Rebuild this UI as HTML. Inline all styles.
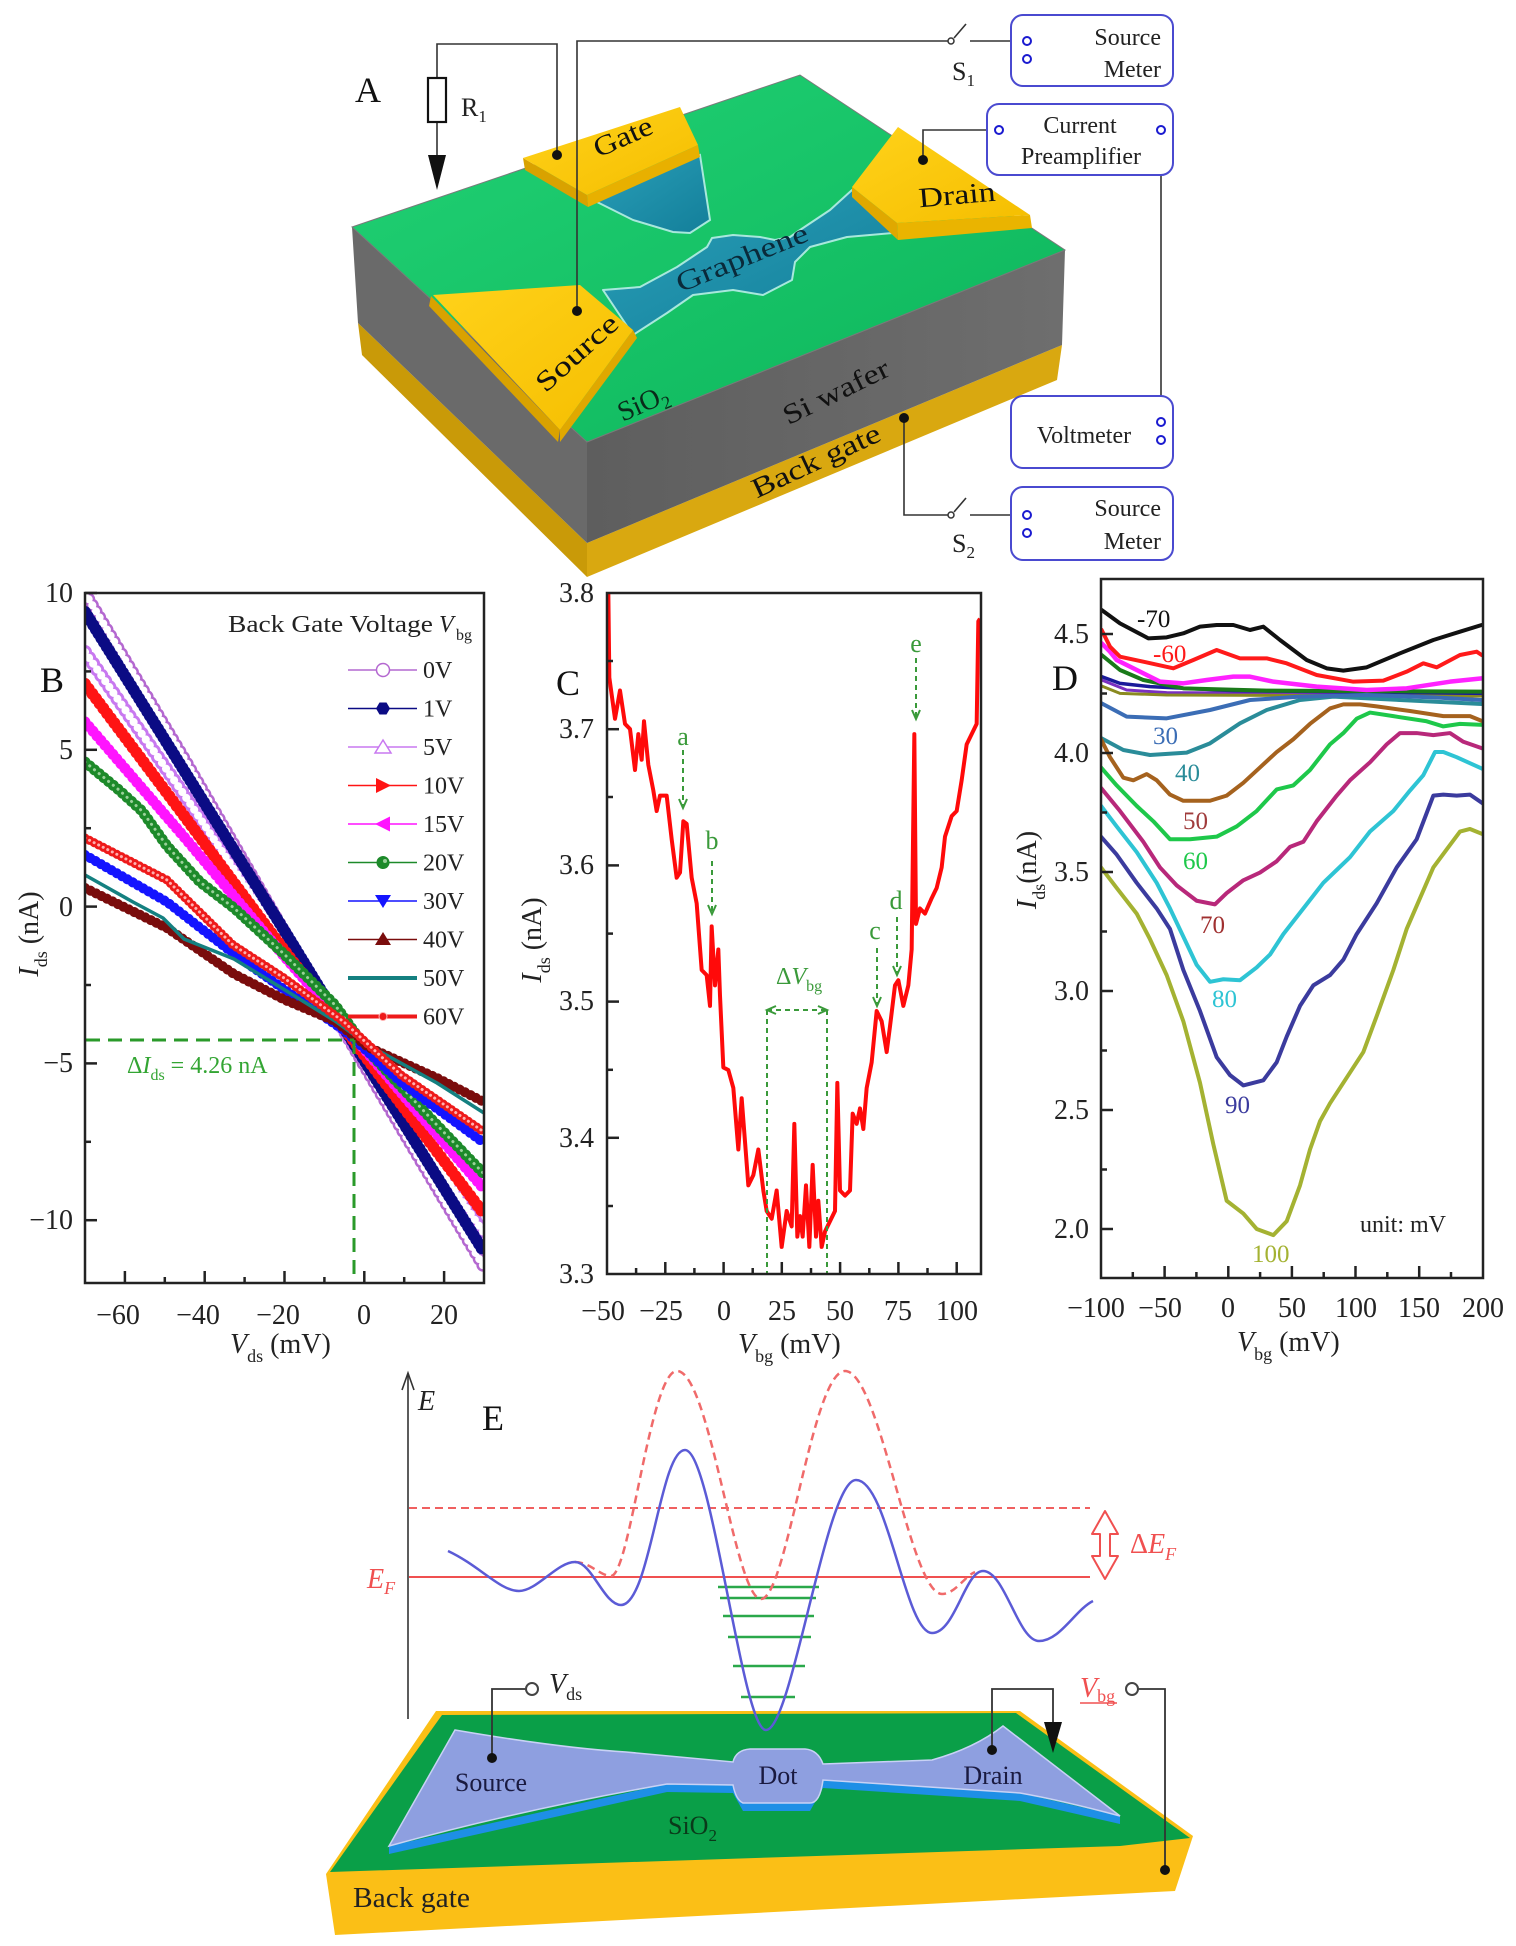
<!DOCTYPE html>
<html><head><meta charset="utf-8">
<style>
html,body{margin:0;padding:0;background:#fff;}
svg{display:block;}
text{font-family:"Liberation Serif",serif;}
</style></head><body>
<svg xmlns="http://www.w3.org/2000/svg" width="1516" height="1946" viewBox="0 0 1516 1946">
<defs>
 <clipPath id="cB"><rect x="85" y="593" width="399" height="690"/></clipPath>
 <clipPath id="cC"><rect x="607" y="593" width="374" height="681"/></clipPath>
 <clipPath id="cD"><rect x="1101" y="579" width="382" height="699"/></clipPath>
 <linearGradient id="gTop" x1="0" y1="0" x2="1" y2="1"><stop offset="0" stop-color="#22d275"/><stop offset="1" stop-color="#0cb45a"/></linearGradient>
 <linearGradient id="gGrayR" x1="0" y1="0" x2="1" y2="0"><stop offset="0" stop-color="#5e5e5e"/><stop offset="1" stop-color="#6e6e6e"/></linearGradient>
 <linearGradient id="gGold" x1="0" y1="0" x2="1" y2="1"><stop offset="0" stop-color="#ffd21a"/><stop offset="1" stop-color="#f5be00"/></linearGradient>
 <linearGradient id="gTeal" x1="0" y1="0" x2="1" y2="1"><stop offset="0" stop-color="#2a9fb8"/><stop offset="1" stop-color="#137f9a"/></linearGradient>
</defs>
<rect width="1516" height="1946" fill="#fff"/>

<!-- ================= PANEL A ================= -->
<g>
 <!-- base layers -->
 <polygon points="358,323 587,543 587,577 362,355" fill="#c99a08"/>
 <polygon points="587,543 1062,345 1057,380 587,577" fill="#d9a810"/>
 <polygon points="352,227 587,442 587,543 358,323" fill="#6a6a6a"/>
 <polygon points="587,442 1065,250 1062,345 587,543" fill="url(#gGrayR)"/>
 <polygon points="352,227 800,75 1065,250 587,442" fill="url(#gTop)" stroke="#7a7a7a" stroke-width="1"/>
 <!-- gate graphene -->
 <polygon points="593,200 700,155 710,220 690,233 673,232 633,220" fill="url(#gTeal)" stroke="#a8e8dc" stroke-width="2"/>
 <!-- channel -->
 <polygon points="603,290 640,287 677,267 707,247 712,238 733,235 760,237 775,240 790,237 800,230 830,210 852,190 893,233 847,237 810,247 795,262 792,280 763,295 733,290 693,295 667,313 633,335" fill="url(#gTeal)" stroke="#a8e8dc" stroke-width="2" stroke-linejoin="round"/>
 <!-- gate electrode -->
 <polygon points="523,158 587,195 588,207 525,170" fill="#d9a200"/>
 <polygon points="587,195 698,145 700,157 588,207" fill="#e8b000"/>
 <polygon points="523,158 680,107 698,145 587,195" fill="url(#gGold)"/>
 <!-- drain electrode -->
 <polygon points="852,187 897,223 898,240 852,197" fill="#e0a800"/>
 <polygon points="897,223 1030,215 1032,228 898,240" fill="#eab400"/>
 <polygon points="898,127 1030,215 897,223 852,187" fill="url(#gGold)"/>
 <!-- source electrode -->
 <polygon points="431,296 560,430 558,442 429,306" fill="#d9a200"/>
 <polygon points="633,330 560,430 560,442 637,338" fill="#e0a800"/>
 <polygon points="433,295 580,285 633,330 560,430" fill="url(#gGold)"/>
 <!-- labels on device -->
 <text x="623" y="137" font-size="28" text-anchor="middle" dy="9" transform="rotate(-24 623 137)" textLength="62" lengthAdjust="spacingAndGlyphs" fill="#111">Gate</text>
 <text x="957" y="195" font-size="28" text-anchor="middle" dy="9" transform="rotate(-5 957 195)" textLength="77" lengthAdjust="spacingAndGlyphs" fill="#111">Drain</text>
 <text x="742" y="258" font-size="28" text-anchor="middle" dy="9" transform="rotate(-22 742 258)" textLength="140" lengthAdjust="spacingAndGlyphs" fill="#0a2a3a">Graphene</text>
 <text x="577" y="353" font-size="28" text-anchor="middle" dy="9" transform="rotate(-42 577 353)" textLength="101" lengthAdjust="spacingAndGlyphs" fill="#111">Source</text>
 <text x="643" y="403" font-size="28" text-anchor="middle" dy="9" transform="rotate(-24 643 403)" fill="#0a2a1a">SiO<tspan font-size="18" dy="6">2</tspan></text>
 <text x="836" y="392" font-size="28" text-anchor="middle" dy="9" transform="rotate(-26 836 392)" textLength="115" lengthAdjust="spacingAndGlyphs" fill="#111">Si wafer</text>
 <text x="816" y="461" font-size="28" text-anchor="middle" dy="9" transform="rotate(-25 816 461)" textLength="139" lengthAdjust="spacingAndGlyphs" fill="#111">Back gate</text>
 <!-- wires -->
 <g stroke="#333" stroke-width="1.6" fill="none">
  <polyline points="437,155 437,44 557,44 557,155"/>
  <polyline points="577,311 577,41 948,41"/>
  <line x1="970" y1="41" x2="1023" y2="41"/>
  <line x1="954" y1="38" x2="966" y2="24"/>
  <polyline points="923,160 923,130 994,130"/>
  <line x1="1161" y1="134" x2="1161" y2="418"/>
  <polyline points="904,418 904,515 948,515"/>
  <line x1="970" y1="515" x2="1023" y2="515"/>
  <line x1="954" y1="512" x2="966" y2="498"/>
 </g>
 <circle cx="951" cy="41" r="3" fill="#fff" stroke="#333" stroke-width="1.5"/>
 <circle cx="951" cy="515" r="3" fill="#fff" stroke="#333" stroke-width="1.5"/>
 <rect x="428" y="78" width="18" height="44" fill="#fff" stroke="#111" stroke-width="2.2"/>
 <polygon points="428,155 446,155 437,190" fill="#111"/>
 <circle cx="557" cy="155" r="5" fill="#111"/>
 <circle cx="577" cy="311" r="5" fill="#111"/>
 <circle cx="923" cy="160" r="5" fill="#111"/>
 <circle cx="904" cy="418" r="5" fill="#111"/>
 <text x="355" y="102" font-size="36" fill="#111">A</text>
 <text x="461" y="116" font-size="26" fill="#222">R<tspan font-size="17" dy="6">1</tspan></text>
 <text x="952" y="80" font-size="26" fill="#222">S<tspan font-size="17" dy="6">1</tspan></text>
 <text x="952" y="552" font-size="26" fill="#222">S<tspan font-size="17" dy="6">2</tspan></text>
 <!-- boxes -->
 <g fill="#fff" stroke="#4a4ad0" stroke-width="2">
  <rect x="1011" y="15" width="162" height="71" rx="12"/>
  <rect x="987" y="104" width="186" height="71" rx="12"/>
  <rect x="1011" y="396" width="162" height="72" rx="12"/>
  <rect x="1011" y="487" width="162" height="73" rx="12"/>
 </g>
 <g fill="#fff" stroke="#1a1ad0" stroke-width="2">
  <circle cx="1027" cy="41" r="4"/><circle cx="1027" cy="59" r="4"/>
  <circle cx="999" cy="130" r="4"/><circle cx="1161" cy="130" r="4"/>
  <circle cx="1161" cy="422" r="4"/><circle cx="1161" cy="440" r="4"/>
  <circle cx="1027" cy="515" r="4"/><circle cx="1027" cy="533" r="4"/>
 </g>
 <g font-size="24" fill="#222">
  <text x="1161" y="45" text-anchor="end">Source</text>
  <text x="1161" y="77" text-anchor="end">Meter</text>
  <text x="1080" y="133" text-anchor="middle">Current</text>
  <text x="1081" y="164" text-anchor="middle">Preamplifier</text>
  <text x="1084" y="443" text-anchor="middle">Voltmeter</text>
  <text x="1161" y="516" text-anchor="end">Source</text>
  <text x="1161" y="549" text-anchor="end">Meter</text>
 </g>
</g>

<!-- ================= PANEL B ================= -->
<g clip-path="url(#cB)" fill="none" stroke-linecap="round" stroke-linejoin="round">
 <!-- 0V open circles -->
 <polyline points="85,593 185,760 284,931 344,1031 404,1133 484,1267" stroke="#b468d0" stroke-width="13" stroke-dasharray="0.1 7"/>
 <polyline points="85,593 185,760 284,931 344,1031 404,1133 484,1267" stroke="#fff" stroke-width="8" stroke-dasharray="0.1 7"/>
 <!-- 5V open triangles -->
 <polyline points="85,652 185,796 284,944 344,1030 404,1117 484,1233" stroke="#c878f0" stroke-width="14" stroke-dasharray="0.1 7"/>
 <polyline points="85,652 185,796 284,944 344,1030 404,1117 484,1233" stroke="#fff" stroke-width="8" stroke-dasharray="0.1 7"/>
 <!-- 1V navy -->
 <polyline points="85,612 185,772 284,930 344,1028 404,1124 484,1252" stroke="#0b0b84" stroke-width="12" stroke-dasharray="0.1 5"/>
 <!-- 10V red -->
 <polyline points="85,684 185,817 284,950 344,1028 404,1108 484,1214" stroke="#ff1414" stroke-width="12" stroke-dasharray="0.1 6"/>
 <!-- 15V magenta -->
 <polyline points="85,722 185,838 284,956 344,1025 404,1096 484,1189" stroke="#ff14ff" stroke-width="11" stroke-dasharray="0.1 6"/>
 <!-- 20V green circles -->
 <polyline points="85,762 119,790 142,811 167,846 200,882 234,908 284,954 335,1005 368,1051 435,1123 484,1174" stroke="#1d8a2a" stroke-width="11" stroke-dasharray="0.1 6"/>
 <polyline points="85,762 119,790 142,811 167,846 200,882 234,908 284,954 335,1005 368,1051 435,1123 484,1174" stroke="#9ad09a" stroke-width="3" stroke-dasharray="0.1 6"/>
 <!-- 30V blue -->
 <polyline points="85,855 167,902 234,954 285,990 345,1031 402,1083 484,1143" stroke="#1414ff" stroke-width="10" stroke-dasharray="0.1 6"/>
 <!-- 40V dark red -->
 <polyline points="85,888 167,928 234,974 285,1000 335,1021 368,1047 437,1078 484,1102" stroke="#7a0c0c" stroke-width="10" stroke-dasharray="0.1 6"/>
 <!-- 50V teal line -->
 <polyline points="85,875 133,902 163,918 184,939 234,959 285,990 335,1021 368,1045 437,1083 484,1113" stroke="#148080" stroke-width="3.5"/>
 <!-- 60V red circles -->
 <polyline points="85,838 167,880 233,945 284,978 344,1022 401,1075 484,1132" stroke="#ee1a1a" stroke-width="9" stroke-dasharray="0.1 5"/>
 <polyline points="85,838 167,880 233,945 284,978 344,1022 401,1075 484,1132" stroke="#ffb0b0" stroke-width="3" stroke-dasharray="0.1 5"/>
</g>
<!-- dashed green -->
<g stroke="#2a9a2a" stroke-width="3" stroke-dasharray="14 8" fill="none">
 <line x1="86" y1="1040" x2="354" y2="1040"/>
 <line x1="354" y1="1040" x2="354" y2="1282"/>
</g>
<text x="127" y="1073" font-size="24" fill="#33a533">Δ<tspan font-style="italic">I</tspan><tspan font-size="16" dy="7">ds</tspan><tspan dy="-7"> = 4.26 nA</tspan></text>
<!-- frame & ticks B -->
<rect x="85" y="593" width="399" height="690" fill="none" stroke="#222" stroke-width="2.5"/>
<g stroke="#222" stroke-width="2.5">
 <line x1="124.9" y1="1283" x2="124.9" y2="1271"/><line x1="204.7" y1="1283" x2="204.7" y2="1271"/>
 <line x1="284.5" y1="1283" x2="284.5" y2="1271"/><line x1="364.3" y1="1283" x2="364.3" y2="1271"/>
 <line x1="444.1" y1="1283" x2="444.1" y2="1271"/>
 <line x1="164.8" y1="1283" x2="164.8" y2="1277"/><line x1="244.6" y1="1283" x2="244.6" y2="1277"/>
 <line x1="324.4" y1="1283" x2="324.4" y2="1277"/><line x1="404.2" y1="1283" x2="404.2" y2="1277"/>
 <line x1="85" y1="593" x2="97" y2="593"/><line x1="85" y1="749.8" x2="97" y2="749.8"/>
 <line x1="85" y1="906.6" x2="97" y2="906.6"/><line x1="85" y1="1063.4" x2="97" y2="1063.4"/>
 <line x1="85" y1="1220.2" x2="97" y2="1220.2"/>
 <line x1="85" y1="671.4" x2="91" y2="671.4"/><line x1="85" y1="828.2" x2="91" y2="828.2"/>
 <line x1="85" y1="985" x2="91" y2="985"/><line x1="85" y1="1141.8" x2="91" y2="1141.8"/>
</g>
<g font-size="28" fill="#222">
 <text x="73" y="602" text-anchor="end">10</text>
 <text x="73" y="759" text-anchor="end">5</text>
 <text x="73" y="916" text-anchor="end">0</text>
 <text x="73" y="1072" text-anchor="end">−5</text>
 <text x="73" y="1229" text-anchor="end">−10</text>
 <text x="118" y="1324" text-anchor="middle">−60</text>
 <text x="198" y="1324" text-anchor="middle">−40</text>
 <text x="278" y="1324" text-anchor="middle">−20</text>
 <text x="364" y="1324" text-anchor="middle">0</text>
 <text x="444" y="1324" text-anchor="middle">20</text>
</g>
<text x="230" y="1353" font-size="28" fill="#222"><tspan font-style="italic">V</tspan><tspan font-size="18" dy="9">ds</tspan><tspan dy="-9"> (mV)</tspan></text>
<text x="38" y="934" font-size="28" fill="#222" text-anchor="middle" transform="rotate(-90 38 934)"><tspan font-style="italic">I</tspan><tspan font-size="18" dy="9">ds</tspan><tspan dy="-9"> (nA)</tspan></text>
<text x="40" y="692" font-size="36" fill="#111">B</text>
<!-- legend B -->
<text x="228" y="632" font-size="24" fill="#222" textLength="205" lengthAdjust="spacingAndGlyphs">Back Gate Voltage</text>
<text x="439" y="632" font-size="24" fill="#222" font-style="italic">V</text>
<text x="456" y="640" font-size="16" fill="#222">bg</text>
<g stroke-width="1.5">
 <line x1="348" y1="670" x2="417" y2="670" stroke="#b468d0"/>
 <circle cx="383" cy="670" r="6.5" fill="#fff" stroke="#b468d0" stroke-width="1.5"/>
 <line x1="348" y1="708.5" x2="417" y2="708.5" stroke="#0b0b84"/>
 <polygon points="376,708.5 379.5,702.5 386.5,702.5 390,708.5 386.5,714.5 379.5,714.5" fill="#0b0b84"/>
 <line x1="348" y1="747" x2="417" y2="747" stroke="#c878f0"/>
 <polygon points="383,740 391,753 375,753" fill="#fff" stroke="#c878f0" stroke-width="1.5"/>
 <line x1="348" y1="785.5" x2="417" y2="785.5" stroke="#ff1414"/>
 <polygon points="376,778 391,785.5 376,793" fill="#ff1414"/>
 <line x1="348" y1="824" x2="417" y2="824" stroke="#ff14ff"/>
 <polygon points="390,816.5 375,824 390,831.5" fill="#ff14ff"/>
 <line x1="348" y1="862.5" x2="417" y2="862.5" stroke="#1d8a2a"/>
 <circle cx="383" cy="862.5" r="6.5" fill="#1d8a2a"/><circle cx="385" cy="861" r="2" fill="#9ad09a"/>
 <line x1="348" y1="901" x2="417" y2="901" stroke="#1414ff"/>
 <polygon points="375,895 391,895 383,908" fill="#1414ff"/>
 <line x1="348" y1="939.5" x2="417" y2="939.5" stroke="#7a0c0c"/>
 <polygon points="383,932 391,945 375,945" fill="#7a0c0c"/>
 <line x1="348" y1="978" x2="417" y2="978" stroke="#148080" stroke-width="4"/>
 <line x1="348" y1="1016.5" x2="417" y2="1016.5" stroke="#ee1a1a" stroke-width="4"/>
 <circle cx="383" cy="1016.5" r="4" fill="#ee1a1a" stroke="#ffb0b0" stroke-width="1"/>
</g>
<g font-size="24" fill="#222">
 <text x="423" y="678">0V</text><text x="423" y="716.5">1V</text><text x="423" y="755">5V</text>
 <text x="423" y="793.5">10V</text><text x="423" y="832">15V</text><text x="423" y="870.5">20V</text>
 <text x="423" y="909">30V</text><text x="423" y="947.5">40V</text><text x="423" y="986">50V</text>
 <text x="423" y="1024.5">60V</text>
</g>

<!-- ================= PANEL C ================= -->
<g clip-path="url(#cC)">
<polyline transform="translate(520,570) scale(0.333333,0.512821)" vector-effect="non-scaling-stroke" fill="none" stroke="#ff0a0a" stroke-width="4" stroke-linejoin="round"
 points="265,45 268,210 285,290 300,235 315,300 330,310 345,390 355,320 365,370 372,295 385,380 400,430 410,470 420,440 440,440 455,525 470,600 480,590 490,490 500,495 515,600 530,650 545,780 560,790 570,850 575,695 585,810 595,740 600,830 610,970 625,975 640,1010 655,1130 665,1030 678,1140 685,1200 700,1180 715,1130 730,1210 740,1250 755,1265 770,1210 785,1320 800,1250 815,1280 823,1080 832,1300 840,1260 848,1300 858,1200 868,1320 878,1160 888,1300 895,1230 905,1320 915,1290 930,1270 945,1250 952,1000 960,1210 975,1220 990,1210 998,1060 1010,1080 1020,1050 1030,1090 1040,1010 1055,960 1070,860 1085,880 1100,940 1110,890 1125,810 1135,800 1150,850 1165,810 1175,740 1183,320 1188,690 1200,660 1215,670 1235,640 1250,620 1265,580 1275,520 1295,480 1310,470 1325,410 1340,340 1355,320 1370,300 1375,100 1380,95"/>
</g>
<!-- annotations C -->
<g stroke="#3a9a3a" stroke-width="2" fill="none">
 <line x1="683" y1="750" x2="683" y2="806" stroke-dasharray="5 4"/><polyline points="679,799 683,808 687,799"/>
 <line x1="712" y1="861" x2="712" y2="912" stroke-dasharray="5 4"/><polyline points="708,905 712,914 716,905"/>
 <line x1="877" y1="948" x2="877" y2="1004" stroke-dasharray="5 4"/><polyline points="873,997 877,1006 881,997"/>
 <line x1="897" y1="917" x2="897" y2="973" stroke-dasharray="5 4"/><polyline points="893,966 897,975 901,966"/>
 <line x1="916" y1="658" x2="916" y2="717" stroke-dasharray="5 4"/><polyline points="912,710 916,719 920,710"/>
 <line x1="767" y1="1010" x2="827" y2="1010" stroke-dasharray="5 4"/>
 <polyline points="776,1006 767,1010 776,1014"/><polyline points="818,1006 827,1010 818,1014"/>
 <line x1="767" y1="1010" x2="767" y2="1274" stroke-dasharray="5 4"/>
 <line x1="827" y1="1010" x2="827" y2="1274" stroke-dasharray="5 4"/>
</g>
<g font-size="26" fill="#3a9a3a" text-anchor="middle">
 <text x="683" y="745">a</text><text x="712" y="849">b</text><text x="875" y="939">c</text>
 <text x="896" y="909">d</text><text x="916" y="652">e</text>
</g>
<text x="776" y="984" font-size="24" fill="#3a9a3a">Δ<tspan font-style="italic">V</tspan><tspan font-size="16" dy="7">bg</tspan></text>
<rect x="607" y="593" width="374" height="681" fill="none" stroke="#222" stroke-width="2.5"/>
<g stroke="#222" stroke-width="2.5">
 <line x1="665.3" y1="1274" x2="665.3" y2="1262"/><line x1="723.6" y1="1274" x2="723.6" y2="1262"/>
 <line x1="781.8" y1="1274" x2="781.8" y2="1262"/><line x1="840.1" y1="1274" x2="840.1" y2="1262"/>
 <line x1="898.4" y1="1274" x2="898.4" y2="1262"/><line x1="956.7" y1="1274" x2="956.7" y2="1262"/>
 <line x1="636.1" y1="1274" x2="636.1" y2="1268"/><line x1="694.4" y1="1274" x2="694.4" y2="1268"/>
 <line x1="752.7" y1="1274" x2="752.7" y2="1268"/><line x1="811" y1="1274" x2="811" y2="1268"/>
 <line x1="869.3" y1="1274" x2="869.3" y2="1268"/><line x1="927.5" y1="1274" x2="927.5" y2="1268"/>
 <line x1="607" y1="729.2" x2="619" y2="729.2"/><line x1="607" y1="865.4" x2="619" y2="865.4"/>
 <line x1="607" y1="1001.6" x2="619" y2="1001.6"/><line x1="607" y1="1137.8" x2="619" y2="1137.8"/>
 <line x1="607" y1="661" x2="613" y2="661"/><line x1="607" y1="797" x2="613" y2="797"/>
 <line x1="607" y1="933.6" x2="613" y2="933.6"/><line x1="607" y1="1069.8" x2="613" y2="1069.8"/>
 <line x1="607" y1="1206" x2="613" y2="1206"/>
</g>
<g font-size="28" fill="#222">
 <text x="594" y="602" text-anchor="end">3.8</text>
 <text x="594" y="738" text-anchor="end">3.7</text>
 <text x="594" y="874" text-anchor="end">3.6</text>
 <text x="594" y="1010" text-anchor="end">3.5</text>
 <text x="594" y="1147" text-anchor="end">3.4</text>
 <text x="594" y="1283" text-anchor="end">3.3</text>
 <text x="603" y="1320" text-anchor="middle">−50</text>
 <text x="661" y="1320" text-anchor="middle">−25</text>
 <text x="724" y="1320" text-anchor="middle">0</text>
 <text x="782" y="1320" text-anchor="middle">25</text>
 <text x="840" y="1320" text-anchor="middle">50</text>
 <text x="898" y="1320" text-anchor="middle">75</text>
 <text x="957" y="1320" text-anchor="middle">100</text>
</g>
<text x="738" y="1353" font-size="28" fill="#222"><tspan font-style="italic">V</tspan><tspan font-size="18" dy="9">bg</tspan><tspan dy="-9"> (mV)</tspan></text>
<text x="541" y="940" font-size="28" fill="#222" text-anchor="middle" transform="rotate(-90 541 940)"><tspan font-style="italic">I</tspan><tspan font-size="18" dy="9">ds</tspan><tspan dy="-9"> (nA)</tspan></text>
<text x="556" y="695" font-size="36" fill="#111">C</text>

<!-- ================= PANEL D ================= -->
<g clip-path="url(#cD)" fill="none" stroke-linejoin="round" stroke-linecap="round">
 <g transform="translate(1100,580) scale(0.333333)">
  <polyline vector-effect="non-scaling-stroke" stroke="#7a30c0" stroke-width="3" points="5,300 80,330 200,338 1145,342"/>
  <polyline vector-effect="non-scaling-stroke" stroke="#8a8a20" stroke-width="3" points="5,318 60,340 200,345 1145,348"/>
  <polyline vector-effect="non-scaling-stroke" stroke="#1a1a9a" stroke-width="3.5" points="5,290 60,310 150,320 400,332 1145,340"/>
  <polyline vector-effect="non-scaling-stroke" stroke="#1a7a1a" stroke-width="4" points="5,225 60,270 130,300 250,325 500,332 1145,335"/>
  <polyline vector-effect="non-scaling-stroke" stroke="#ff22ff" stroke-width="4.5" points="5,190 30,215 50,240 90,260 120,275 180,305 250,310 320,300 400,290 450,290 520,305 650,320 800,330 920,325 1050,305 1145,295"/>
  <polyline vector-effect="non-scaling-stroke" stroke="#ff1a1a" stroke-width="4" points="5,150 30,200 60,230 130,245 220,265 280,240 350,210 420,235 500,235 560,250 650,285 760,305 850,302 920,275 970,250 1010,262 1080,225 1130,215 1145,225"/>
  <polyline vector-effect="non-scaling-stroke" stroke="#111" stroke-width="4" points="5,90 60,130 145,175 200,172 250,160 300,140 350,135 400,135 450,150 490,140 540,180 620,240 680,265 730,272 800,262 900,220 1000,180 1080,155 1145,135"/>
  <polyline vector-effect="non-scaling-stroke" stroke="#2a8c99" stroke-width="4" points="5,475 70,510 150,525 260,518 330,490 420,430 500,390 600,360 700,350 900,360 1145,372"/>
  <polyline vector-effect="non-scaling-stroke" stroke="#3b6db5" stroke-width="4" points="5,370 80,410 200,415 330,390 450,360 600,350 800,345 1000,352 1145,360"/>
 </g>
 <g transform="translate(1010,570) scale(0.333333,0.512821)">
  <polyline vector-effect="non-scaling-stroke" stroke="#a5621e" stroke-width="4" points="273,330 300,365 340,405 370,410 410,398 440,410 480,438 520,450 600,450 650,440 700,415 750,385 800,355 850,330 900,300 960,270 1000,262 1050,262 1100,266 1200,275 1300,285 1380,285 1418,295"/>
  <polyline vector-effect="non-scaling-stroke" stroke="#1ec84a" stroke-width="4" points="273,385 320,420 380,460 430,490 480,525 540,525 620,520 680,500 740,470 800,428 850,420 900,390 960,340 1000,318 1040,290 1080,278 1150,285 1250,295 1300,305 1350,300 1418,302"/>
  <polyline vector-effect="non-scaling-stroke" stroke="#b8287a" stroke-width="4" points="273,425 330,470 400,530 450,580 500,615 560,645 615,652 650,630 700,605 750,590 800,568 840,540 880,530 920,490 980,440 1020,410 1080,375 1130,340 1170,318 1220,318 1270,322 1320,318 1360,335 1418,348"/>
  <polyline vector-effect="non-scaling-stroke" stroke="#2ec4d4" stroke-width="4" points="273,460 320,500 380,550 440,610 480,660 520,715 560,770 600,803 640,798 690,800 740,775 780,750 820,710 880,660 940,610 980,585 1020,560 1080,510 1150,470 1200,430 1240,400 1275,355 1300,355 1340,365 1418,388"/>
  <polyline vector-effect="non-scaling-stroke" stroke="#3b3b9e" stroke-width="4" points="273,520 320,555 380,610 440,660 480,700 520,780 570,860 620,950 660,985 700,1005 760,995 800,960 830,910 870,850 910,810 960,790 1000,760 1040,710 1100,650 1160,580 1220,525 1270,440 1300,438 1340,440 1380,438 1418,455"/>
  <polyline vector-effect="non-scaling-stroke" stroke="#a4b232" stroke-width="4" points="273,580 320,620 380,670 420,720 470,790 520,880 570,1000 610,1120 650,1230 700,1255 740,1285 790,1297 830,1270 870,1200 900,1130 930,1075 960,1040 1000,1000 1060,940 1100,870 1150,780 1190,700 1230,640 1270,580 1310,545 1350,510 1380,505 1418,515"/>
 </g>
</g>
<rect x="1101" y="579" width="382" height="699" fill="none" stroke="#222" stroke-width="2.5"/>
<g stroke="#222" stroke-width="2.5">
 <line x1="1164.6" y1="1278" x2="1164.6" y2="1266"/><line x1="1228.3" y1="1278" x2="1228.3" y2="1266"/>
 <line x1="1291.9" y1="1278" x2="1291.9" y2="1266"/><line x1="1355.5" y1="1278" x2="1355.5" y2="1266"/>
 <line x1="1419.2" y1="1278" x2="1419.2" y2="1266"/>
 <line x1="1132.8" y1="1278" x2="1132.8" y2="1272"/><line x1="1196.4" y1="1278" x2="1196.4" y2="1272"/>
 <line x1="1260.1" y1="1278" x2="1260.1" y2="1272"/><line x1="1323.7" y1="1278" x2="1323.7" y2="1272"/>
 <line x1="1387.3" y1="1278" x2="1387.3" y2="1272"/><line x1="1451" y1="1278" x2="1451" y2="1272"/>
 <line x1="1101" y1="634" x2="1113" y2="634"/><line x1="1101" y1="753" x2="1113" y2="753"/>
 <line x1="1101" y1="872" x2="1113" y2="872"/><line x1="1101" y1="991" x2="1113" y2="991"/>
 <line x1="1101" y1="1110" x2="1113" y2="1110"/><line x1="1101" y1="1229" x2="1113" y2="1229"/>
 <line x1="1101" y1="693.5" x2="1107" y2="693.5"/><line x1="1101" y1="812.5" x2="1107" y2="812.5"/>
 <line x1="1101" y1="931.5" x2="1107" y2="931.5"/><line x1="1101" y1="1050.5" x2="1107" y2="1050.5"/>
 <line x1="1101" y1="1169.5" x2="1107" y2="1169.5"/>
</g>
<g font-size="28" fill="#222">
 <text x="1089" y="643" text-anchor="end">4.5</text>
 <text x="1089" y="762" text-anchor="end">4.0</text>
 <text x="1089" y="881" text-anchor="end">3.5</text>
 <text x="1089" y="1000" text-anchor="end">3.0</text>
 <text x="1089" y="1119" text-anchor="end">2.5</text>
 <text x="1089" y="1238" text-anchor="end">2.0</text>
 <text x="1096" y="1317" text-anchor="middle">−100</text>
 <text x="1160" y="1317" text-anchor="middle">−50</text>
 <text x="1228" y="1317" text-anchor="middle">0</text>
 <text x="1292" y="1317" text-anchor="middle">50</text>
 <text x="1356" y="1317" text-anchor="middle">100</text>
 <text x="1419" y="1317" text-anchor="middle">150</text>
 <text x="1483" y="1317" text-anchor="middle">200</text>
</g>
<text x="1237" y="1351" font-size="28" fill="#222"><tspan font-style="italic">V</tspan><tspan font-size="18" dy="9">bg</tspan><tspan dy="-9"> (mV)</tspan></text>
<text x="1036" y="870" font-size="28" fill="#222" text-anchor="middle" transform="rotate(-90 1036 870)"><tspan font-style="italic">I</tspan><tspan font-size="18" dy="9">ds</tspan><tspan dy="-9">(nA)</tspan></text>
<text x="1052" y="690" font-size="36" fill="#111">D</text>
<g font-size="25">
 <text x="1137" y="627" fill="#111">-70</text>
 <text x="1153" y="662" fill="#ff1a1a">-60</text>
 <text x="1153" y="744" fill="#3b6db5">30</text>
 <text x="1175" y="781" fill="#2a8c99">40</text>
 <text x="1183" y="829" fill="#a03c3c">50</text>
 <text x="1183" y="869" fill="#1ec84a">60</text>
 <text x="1200" y="933" fill="#a03030">70</text>
 <text x="1212" y="1007" fill="#2ec4d4">80</text>
 <text x="1225" y="1113" fill="#3b3b9e">90</text>
 <text x="1252" y="1262" fill="#a4b232">100</text>
 <text x="1360" y="1232" fill="#222" font-size="24">unit: mV</text>
</g>

<!-- ================= PANEL E ================= -->
<!-- slab -->
<polygon points="436,1711 1020,1711 1193,1836 1175,1891 335,1935 326,1874" fill="#fbbf16"/>
<polygon points="442,1715 1016,1713 1190,1838 1120,1846 330,1872" fill="#0a9f48"/>
<!-- graphene -->
<polygon points="389,1846 667,1784 733,1785 743,1803 810,1803 823,1780 1020,1793 1120,1816 1120,1824 1020,1801 823,1788 810,1811 743,1811 733,1793 667,1792 389,1854" fill="#1e8fe6"/>
<path d="M455,1730 Q560,1748 626,1752 L733,1762 Q736,1750 750,1749 L805,1749 Q818,1750 823,1764 L932,1760 Q975,1748 1003,1726 L1120,1816 Q1060,1800 1020,1793 L823,1780 Q820,1803 810,1803 L743,1803 Q736,1800 733,1785 L667,1784 Q520,1810 389,1846 Z" fill="#8e9fe0" stroke="#c8d2f5" stroke-width="1.5"/>
<g font-size="26" fill="#1a1a40" text-anchor="middle">
 <text x="491" y="1791">Source</text>
 <text x="778" y="1784">Dot</text>
 <text x="993" y="1784">Drain</text>
</g>
<text x="668" y="1834" font-size="26" fill="#0a3a1a">SiO<tspan font-size="17" dy="7">2</tspan></text>
<text x="353" y="1907" font-size="29" fill="#222" textLength="117" lengthAdjust="spacingAndGlyphs">Back gate</text>
<!-- E axis -->
<line x1="408" y1="1719" x2="408" y2="1374" stroke="#333" stroke-width="1.6"/>
<polyline points="402,1390 408,1373 414,1390" fill="none" stroke="#333" stroke-width="1.6"/>
<text x="418" y="1410" font-size="28" font-style="italic" fill="#222">E</text>
<text x="482" y="1430" font-size="36" fill="#111">E</text>
<!-- levels -->
<line x1="409" y1="1508" x2="1090" y2="1508" stroke="#f06060" stroke-width="2" stroke-dasharray="8 5"/>
<line x1="409" y1="1577" x2="1090" y2="1577" stroke="#f05050" stroke-width="2"/>
<text x="367" y="1588" font-size="28" font-style="italic" fill="#f05050">E<tspan font-size="18" dy="6">F</tspan></text>
<g stroke="#2aa84a" stroke-width="2.5">
 <line x1="718" y1="1587" x2="819" y2="1587"/>
 <line x1="720" y1="1598" x2="816" y2="1598"/>
 <line x1="723" y1="1616" x2="814" y2="1616"/>
 <line x1="728" y1="1637" x2="811" y2="1637"/>
 <line x1="733" y1="1666" x2="805" y2="1666"/>
 <line x1="741" y1="1697" x2="795" y2="1697"/>
</g>
<path d="M575,1562 C590,1562 600,1576 611,1576 C630,1576 650,1371 677,1371 C710,1371 735,1599 761,1599 C787,1599 812,1371 845,1371 C880,1371 910,1594 942,1594 C955,1594 965,1576 975,1572" fill="none" stroke="#f06a6a" stroke-width="2.5" stroke-dasharray="8 5"/>
<path d="M448,1551 C480,1566 500,1591 519,1591 C537,1591 557,1562 575,1562 C592,1562 604,1605 621,1605 C650,1605 660,1450 685,1450 C712,1450 742,1730 766,1730 C792,1730 826,1480 856,1480 C888,1480 905,1633 932,1633 C955,1633 965,1571 983,1571 C1005,1571 1018,1641 1039,1641 C1060,1641 1075,1610 1093,1601" fill="none" stroke="#5b5bd6" stroke-width="2.5"/>
<!-- delta EF arrow -->
<path d="M1105,1511 L1118,1534 L1110,1534 L1110,1556 L1118,1556 L1105,1579 L1092,1556 L1100,1556 L1100,1534 L1092,1534 Z" fill="#fff" stroke="#f05050" stroke-width="2" stroke-linejoin="round"/>
<text x="1130" y="1553" font-size="28" fill="#f05050">Δ<tspan font-style="italic">E</tspan><tspan font-size="18" dy="7" font-style="italic">F</tspan></text>
<!-- wires E -->
<g stroke="#333" stroke-width="1.8" fill="none">
 <polyline points="492,1758 492,1689 526,1689"/>
 <polyline points="992,1750 992,1689 1053,1689 1053,1724"/>
 <polyline points="1138,1689 1165,1689 1165,1870"/>
</g>
<circle cx="532" cy="1689" r="6" fill="#fff" stroke="#444" stroke-width="2"/>
<circle cx="1132" cy="1689" r="6" fill="#fff" stroke="#444" stroke-width="2"/>
<circle cx="492" cy="1758" r="5" fill="#111"/>
<circle cx="992" cy="1750" r="5" fill="#111"/>
<circle cx="1165" cy="1870" r="5" fill="#111"/>
<polygon points="1044,1722 1062,1722 1053,1753" fill="#111"/>
<text x="549" y="1693" font-size="28" fill="#222"><tspan font-style="italic">V</tspan><tspan font-size="18" dy="7">ds</tspan></text>
<text x="1080" y="1697" font-size="28" fill="#f05050"><tspan font-style="italic">V</tspan><tspan font-size="18" dy="5">bg</tspan></text>
<line x1="1080" y1="1703" x2="1117" y2="1703" stroke="#f05050" stroke-width="1.5"/>
</svg>
</body></html>
